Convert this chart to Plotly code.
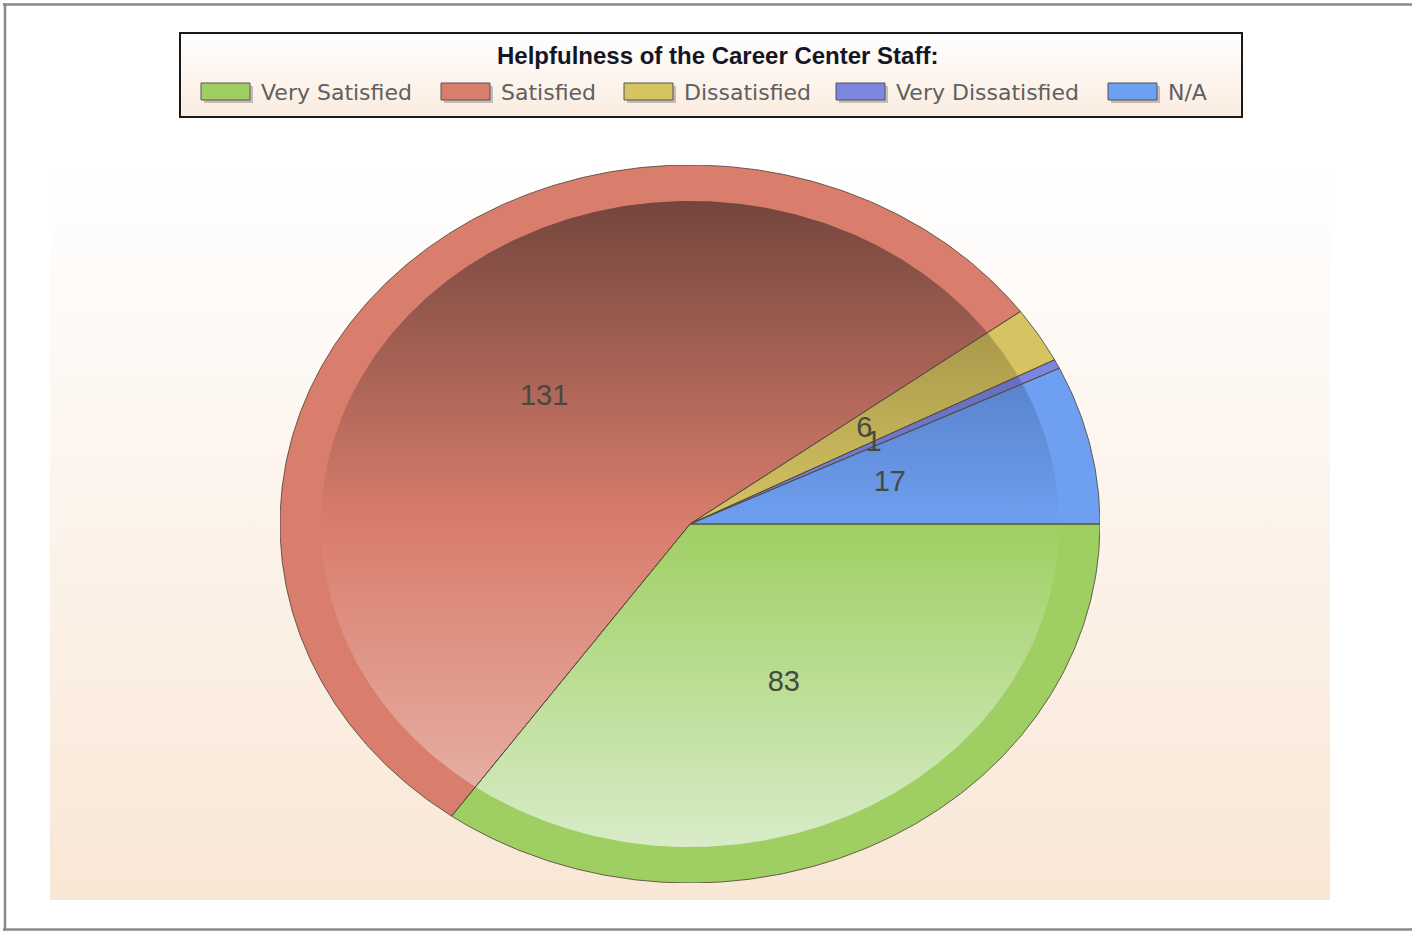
import numpy as np
import plotly.graph_objects as go

# ---------------- data ----------------
categories = ["Very Satisfied", "Satisfied", "Dissatisfied", "Very Dissatisfied", "N/A"]
counts = [83, 131, 6, 1, 17]
chart_title = "Helpfulness of the Career Center Staff:"

# ---------------- styles ----------------
rim_colors = ["#9fcf62", "#d97d6c", "#d6c463", "#7b86e0", "#6f9ff0"]
dark_colors = ["#5e7e3a", "#74463d", "#8a7c3a", "#4a5296", "#3f62a0"]
light_colors = ["#d8ecc8", "#e8b8ae", "#ece2b0", "#c0c6f2", "#c0d6fa"]
legend_swatch_x = [201, 441, 624, 836, 1108]

W, H = 1412, 931
PIE_L, PIE_R, PIE_T, PIE_B = 280, 1100, 165, 883
INNER = 0.9


def py(p):
    return H - p


def rect(x0, x1, y0, y1):
    return [x0, x1, x1, x0, x0], [py(y0), py(y0), py(y1), py(y1), py(y0)]


fig = go.Figure()

# background panel (pixel axes x/y)
bx, by = rect(50, 1330, 168, 900)
fig.add_trace(go.Scatter(
    x=bx, y=by, mode="lines", fill="toself", line=dict(width=0),
    fillgradient=dict(type="vertical", colorscale=[[0, "#f9e7d6"], [0.6, "#fdf5ee"], [1, "#ffffff"]],
                      start=py(900), stop=py(168)),
    hoverinfo="skip", showlegend=False, xaxis="x", yaxis="y"))

# legend box background
lx, ly = rect(180, 1242, 33, 117)
fig.add_trace(go.Scatter(
    x=lx, y=ly, mode="lines", fill="toself", line=dict(width=0),
    fillgradient=dict(type="vertical", colorscale=[[0, "#fbecdf"], [1, "#ffffff"]],
                      start=py(117), stop=py(33)),
    hoverinfo="skip", showlegend=False, xaxis="x", yaxis="y"))

# ---------------- pie (unit ellipse axes x2/y2) ----------------
total = float(sum(counts))
angles = []
cum = 0.0
for v in counts:
    a0 = -cum / total * 2 * np.pi
    cum += v
    a1 = -cum / total * 2 * np.pi
    angles.append((a0, a1))


def wedge(a0, a1, r):
    n = max(3, int(abs(a1 - a0) * 180 / np.pi * 2))
    t = np.linspace(a0, a1, n)
    xs = np.concatenate([[0], r * np.cos(t), [0]])
    ys = np.concatenate([[0], r * np.sin(t), [0]])
    return xs, ys


# outer rim wedges
for i, (a0, a1) in enumerate(angles):
    xs, ys = wedge(a0, a1, 1.0)
    fig.add_trace(go.Scatter(x=xs, y=ys, mode="lines", fill="toself",
                             fillcolor=rim_colors[i], line=dict(width=0),
                             name=categories[i], hoverinfo="name", showlegend=False,
                             xaxis="x2", yaxis="y2"))
# inner gradient wedges
for i, (a0, a1) in enumerate(angles):
    xs, ys = wedge(a0, a1, INNER)
    fig.add_trace(go.Scatter(x=xs, y=ys, mode="lines", fill="toself", line=dict(width=0),
                             fillgradient=dict(type="vertical",
                                               colorscale=[[0, light_colors[i]], [0.5, rim_colors[i]],
                                                           [1, dark_colors[i]]],
                                               start=-INNER, stop=INNER),
                             name=categories[i], hoverinfo="name", showlegend=False,
                             xaxis="x2", yaxis="y2"))
# outlines
for i, (a0, a1) in enumerate(angles):
    xs, ys = wedge(a0, a1, 1.0)
    fig.add_trace(go.Scatter(x=xs, y=ys, mode="lines",
                             line=dict(width=1, color="rgba(80,72,60,0.85)"),
                             hoverinfo="skip", showlegend=False, xaxis="x2", yaxis="y2"))

# value labels
mids = [(a0 + a1) / 2 for a0, a1 in angles]
fig.add_trace(go.Scatter(
    x=[0.5 * np.cos(m) for m in mids], y=[0.5 * np.sin(m) for m in mids],
    mode="text", text=[str(v) for v in counts],
    textfont=dict(family="Liberation Sans, Arial, sans-serif", size=29, color="#454a40"),
    hoverinfo="skip", showlegend=False, xaxis="x2", yaxis="y2"))

# ---------------- legend (manual) ----------------
shapes = []
annotations = []
for i, cat in enumerate(categories):
    sx = legend_swatch_x[i]
    shapes.append(dict(type="rect", xref="x", yref="y", x0=sx + 3, x1=sx + 52, y0=py(86), y1=py(103),
                       fillcolor="rgba(0,0,0,0.22)", line=dict(width=0)))
    shapes.append(dict(type="rect", xref="x", yref="y", x0=sx, x1=sx + 49, y0=py(83), y1=py(100),
                       fillcolor=rim_colors[i], line=dict(width=1, color="#555555")))
    annotations.append(dict(xref="x", yref="y", x=sx + 58, y=py(92), text=cat, showarrow=False,
                            xanchor="left", yanchor="middle",
                            font=dict(family="DejaVu Sans, sans-serif", size=22, color="#5f5f5f")))

annotations.append(dict(xref="x", yref="y", x=717, y=py(55), text="<b>" + chart_title + "</b>",
                        showarrow=False, xanchor="center", yanchor="middle",
                        font=dict(family="Liberation Sans, Arial, sans-serif", size=24, color="#151525")))

# legend border
shapes.append(dict(type="rect", xref="x", yref="y", x0=180, x1=1242, y0=py(33), y1=py(117),
                   line=dict(width=2, color="#1a1a1a"), fillcolor="rgba(0,0,0,0)"))
# outer frame
for x0, y0, x1, y1 in [(3, 4.5, W, 4.5), (5, 3, 5, H), (3, 929.5, W, 929.5)]:
    shapes.append(dict(type="line", xref="x", yref="y", x0=x0, y0=py(y0), x1=x1, y1=py(y1),
                       line=dict(width=2.5, color="#8a8a8a")))

axis_off = dict(visible=False, showgrid=False, zeroline=False, fixedrange=True)
fig.update_layout(
    width=W, height=H, margin=dict(l=0, r=0, t=0, b=0),
    paper_bgcolor="white", plot_bgcolor="rgba(0,0,0,0)",
    xaxis=dict(range=[0, W], domain=[0, 1], **axis_off),
    yaxis=dict(range=[0, H], domain=[0, 1], **axis_off),
    xaxis2=dict(range=[-1, 1], domain=[PIE_L / W, PIE_R / W], anchor="y2", **axis_off),
    yaxis2=dict(range=[-1, 1], domain=[1 - PIE_B / H, 1 - PIE_T / H], anchor="x2", **axis_off),
    shapes=shapes, annotations=annotations, showlegend=False,
)

fig.write_html("out.html", config={"displayModeBar": False},
               post_script="document.body.style.margin='0px';document.body.style.overflow='hidden';")
